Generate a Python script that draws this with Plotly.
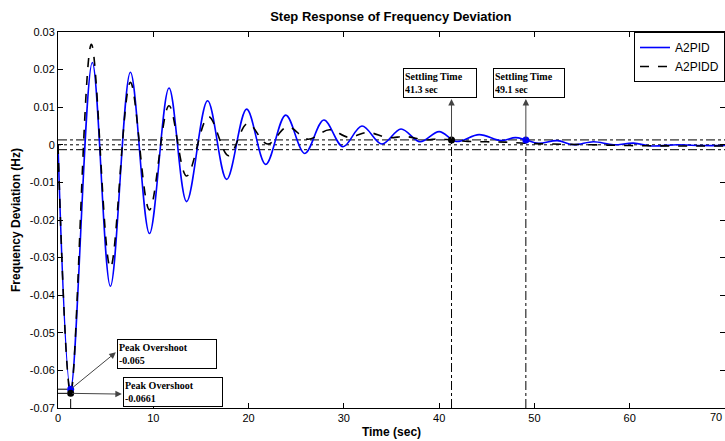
import plotly.graph_objects as go

# ---- data ----
t_pid = [0, 1.33, 3.6, 5.5, 7.6, 9.6, 11.65, 13.5, 15.7, 17.7, 19.8, 21.8, 23.9, 25.9, 27.9, 29.9,
         31.9, 34.0, 36.0, 38.0, 40.0, 41.8, 44.2, 46.5, 48.0, 49.1, 50.4, 52.4, 54.1, 56.2, 58.3,
         60.4, 62.3, 65.0, 67.5, 70.0]
v_pid = [0, -0.065, 0.0219, -0.0376, 0.0193, -0.0236, 0.0151, -0.0151, 0.0117, -0.0092, 0.0095, -0.0052,
         0.0079, -0.0023, 0.0066, -0.0005, 0.0050, 0.0002, 0.0042, 0.0008, 0.0035, 0.0009, 0.0027, 0.0011,
         0.0019, 0.0013, 0.0004, 0.0011, 0.0000, 0.0008, 0.0000, 0.00045, -0.0003, 0.0000, -0.0002, -0.0002]

t_pidd = [0, 1.33, 3.5, 5.5, 7.6, 9.6, 11.65, 13.5, 15.8, 17.9, 19.9, 22.0, 24.1, 26.2, 28.5, 30.5,
          32.5, 34.6, 36.5, 38.5, 40.0, 41.3, 43.0, 45.0, 47.0, 49.0, 52.0, 56.0, 60.0, 65.0, 70.0]
v_pidd = [0, -0.0661, 0.0267, -0.0327, 0.0166, -0.0173, 0.0104, -0.0083, 0.0075, -0.0029, 0.0057, 0.0002,
          0.0048, 0.0015, 0.0040, 0.0020, 0.0033, 0.0019, 0.0022, 0.0013, 0.0016, 0.00125, 0.0009, 0.0008,
          0.0007, 0.0004, 0.0002, 0.0000, -0.0002, -0.0003, -0.0003]

band = 0.0013
peak_t = 1.33
peak_pid = -0.065
peak_pidd = -0.0661
settle_pidd_t = 41.3
settle_pid_t = 49.1
settle_v = 0.00125

x_ticks = [0, 10, 20, 30, 40, 50, 60, 70]
x_ticklabels = ["0", "10", "20", "30", "40", "50", "60", "70"]
y_ticks = [0.03, 0.02, 0.01, 0, -0.01, -0.02, -0.03, -0.04, -0.05, -0.06, -0.07]
y_ticklabels = ["0.03", "0.02", "0.01", "0", "-0.01", "-0.02", "-0.03", "-0.04", "-0.05", "-0.06", "-0.07"]

fig = go.Figure()

# band / reference lines
for yv, dash in [(band, "dashdot"), (-band, "dashdot"), (0, "dot")]:
    fig.add_trace(go.Scatter(x=[0, 70], y=[yv, yv], mode="lines", showlegend=False, hoverinfo="skip",
                             line=dict(color="black", width=1, dash=dash)))

# guide lines to the marked points
for xs, ys in [([settle_pidd_t, settle_pidd_t], [-0.07, settle_v]),
               ([settle_pid_t, settle_pid_t], [-0.07, settle_v]),
               ([peak_t, peak_t], [-0.07, peak_pidd]),
               ([0, peak_t], [peak_pid, peak_pid]),
               ([0, peak_t], [peak_pidd, peak_pidd])]:
    fig.add_trace(go.Scatter(x=xs, y=ys, mode="lines", showlegend=False, hoverinfo="skip",
                             line=dict(color="black", width=1, dash="dashdot")))

fig.add_trace(go.Scatter(x=t_pid, y=v_pid, mode="lines", name="A2PID",
                         line=dict(color="#0000ff", width=1.6, shape="spline", smoothing=1.0)))
fig.add_trace(go.Scatter(x=t_pidd, y=v_pidd, mode="lines", name="A2PIDD",
                         line=dict(color="black", width=1.6, dash="dash", shape="spline", smoothing=1.0)))

# markers
fig.add_trace(go.Scatter(x=[peak_t, settle_pid_t], y=[peak_pid, settle_v], mode="markers", showlegend=False,
                         marker=dict(color="#0000ff", size=7)))
fig.add_trace(go.Scatter(x=[peak_t, settle_pidd_t], y=[peak_pidd, settle_v], mode="markers", showlegend=False,
                         marker=dict(color="black", size=7)))

box_font = dict(family="Liberation Serif, Times New Roman, serif", size=10, color="black")

def textbox(x, y, text, w):
    fig.add_annotation(x=x, y=y, xref="x", yref="y", text=text, showarrow=False, align="left",
                       font=box_font, bordercolor="black", borderwidth=1, bgcolor="white",
                       width=w, height=26, borderpad=1)

def arrow(x, y, ax, ay, color):
    fig.add_annotation(x=x, y=y, ax=ax, ay=ay, xref="x", yref="y", axref="x", ayref="y", text="",
                       showarrow=True, arrowhead=2, arrowsize=1.3, arrowwidth=1, arrowcolor=color)

arrow(settle_pidd_t, 0.0122, settle_pidd_t, settle_v, "#444444")
arrow(settle_pid_t, 0.0122, settle_pid_t, settle_v, "#444444")
arrow(6.07, -0.0552, peak_t, peak_pid, "#444444")
arrow(6.7, -0.0663, peak_t, peak_pidd, "#444444")

textbox(40.05, 0.0165, "<b>Settling Time<br>41.3 sec</b>", 70)
textbox(49.4, 0.0165, "<b>Settling Time<br>49.1 sec</b>", 68)
textbox(11.4, -0.0557, "<b>Peak Overshoot<br>-0.065</b>", 96)
textbox(12.1, -0.0657, "<b>Peak Overshoot<br>-0.0661</b>", 96)

axis_font = dict(family="Arial, Liberation Sans, sans-serif", size=11, color="black")

# last x tick label sits on the window edge; keep it fully inside the page
fig.add_annotation(x=x_ticks[-1], y=0, xref="x", yref="paper", yanchor="top", xanchor="right", yshift=-1,
                   xshift=-1, text=x_ticklabels[-1], showarrow=False, font=axis_font)

fig.update_layout(
    width=725, height=441,
    margin=dict(l=58, r=0, t=32, b=33),
    paper_bgcolor="white", plot_bgcolor="white",
    title=dict(text="<b>Step Response of Frequency Deviation</b>", x=0.539, xanchor="center",
               y=0.962, yanchor="middle",
               font=dict(family="Arial, Liberation Sans, sans-serif", size=13, color="black")),
    showlegend=True,
    legend=dict(x=1, y=1, xanchor="right", yanchor="top", bgcolor="white", bordercolor="black",
                borderwidth=1, font=dict(family="Arial, Liberation Sans, sans-serif", size=12, color="black"),
                tracegroupgap=0, itemwidth=30),
    font=axis_font,
)
fig.update_xaxes(range=[0, 70], tickvals=x_ticks[:-1], ticktext=x_ticklabels[:-1], ticks="inside", ticklen=5,
                 tickcolor="black",
                 showline=True, linecolor="black", linewidth=1, mirror="ticks", showgrid=False,
                 zeroline=False, tickfont=axis_font,
                 title=dict(text="<b>Time (sec)</b>", standoff=4,
                            font=dict(family="Arial, Liberation Sans, sans-serif", size=12, color="black")))
fig.update_yaxes(range=[-0.07, 0.03], tickvals=y_ticks, ticktext=y_ticklabels, ticks="inside", ticklen=5,
                 tickcolor="black", showline=True, linecolor="black", linewidth=1, mirror="ticks",
                 showgrid=False, zeroline=False, tickfont=axis_font,
                 title=dict(text="<b>Frequency Deviation (Hz)</b>", standoff=6,
                            font=dict(family="Arial, Liberation Sans, sans-serif", size=12, color="black")))

fig.write_html("out.html")
